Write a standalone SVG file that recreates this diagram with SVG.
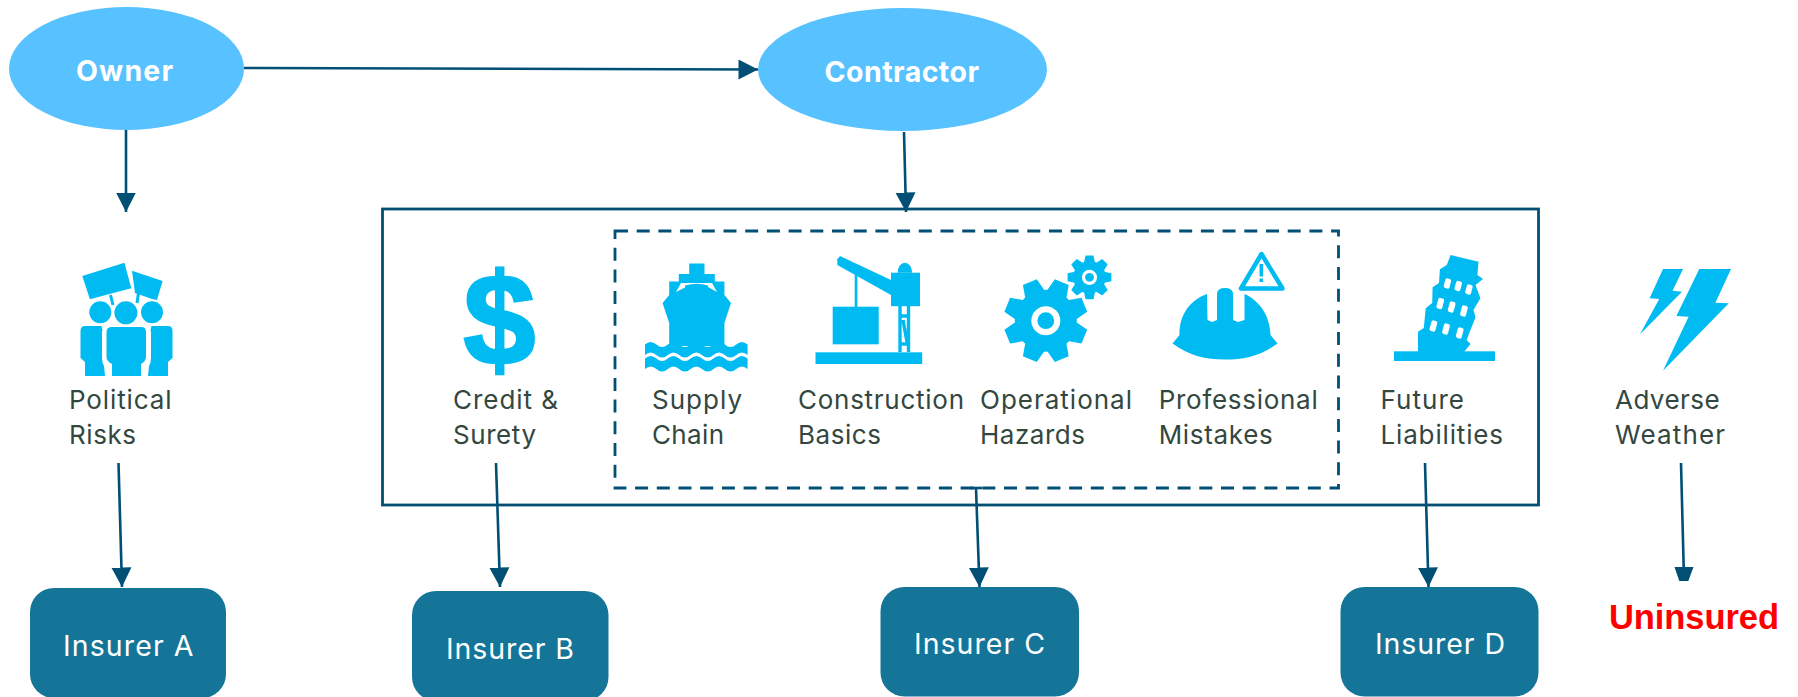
<svg xmlns="http://www.w3.org/2000/svg" xmlns:xlink="http://www.w3.org/1999/xlink" width="1798" height="697" viewBox="0 0 1798 697">
<style>
.bg{fill:#fff}
.el{fill:#57c2ff}
.ins{fill:#157599}
.ic{fill:#00bbf2}
.cut{fill:#fff}
.conn{fill:none;stroke:#024f75;stroke-width:2.6}
.frame{fill:none;stroke:#024f75;stroke-width:2.8}
.dash{fill:none;stroke:#024f75;stroke-width:2.8;stroke-dasharray:13 8.7}
text{font-family:Inter,"Liberation Sans",Arial,sans-serif}
.t-el{font-size:28.5px;font-weight:700;fill:#fff}
.t-ins{font-size:28.5px;fill:#fff}
.t-lab{font-size:26px;fill:#33473f}
.t-red{font-family:"Liberation Sans",Arial,sans-serif;font-size:34.5px;font-weight:700;fill:#ff0000}
.t-icon{font-family:"Liberation Sans",Arial,sans-serif;font-size:130px;font-weight:700;fill:#00bbf2;stroke:#00bbf2;stroke-width:2.5;text-anchor:middle}
</style>
<defs>
<marker id="ah" markerUnits="userSpaceOnUse" markerWidth="20" markerHeight="21" viewBox="0 0 20 21" refX="19.5" refY="10.5" orient="auto"><path d="M0 0.5L19.5 10.5L0 20.500Z" fill="#024f75"/></marker>
<g id="gear">
<circle r="31" class="ic"/>
<polygon class="ic" points="-7.5,-41.7 7.5,-41.7 10.5,-28 -10.5,-28" transform="rotate(22.500)"/>
<polygon class="ic" points="-7.5,-41.7 7.5,-41.7 10.5,-28 -10.5,-28" transform="rotate(67.500)"/>
<polygon class="ic" points="-7.5,-41.7 7.5,-41.7 10.5,-28 -10.5,-28" transform="rotate(112.500)"/>
<polygon class="ic" points="-7.5,-41.7 7.5,-41.7 10.5,-28 -10.5,-28" transform="rotate(157.500)"/>
<polygon class="ic" points="-7.5,-41.7 7.5,-41.7 10.5,-28 -10.5,-28" transform="rotate(202.500)"/>
<polygon class="ic" points="-7.5,-41.7 7.5,-41.7 10.5,-28 -10.5,-28" transform="rotate(247.500)"/>
<polygon class="ic" points="-7.5,-41.7 7.5,-41.7 10.5,-28 -10.5,-28" transform="rotate(292.500)"/>
<polygon class="ic" points="-7.5,-41.7 7.5,-41.7 10.5,-28 -10.5,-28" transform="rotate(337.500)"/>
<circle r="14.5" class="cut"/>
<circle r="8.4" class="ic"/>
</g>
<path id="wave" class="ic" d="M645 0q5.7 -5 11.4 0t11.4 0t11.4 0t11.4 0t11.4 0t11.4 0t11.4 0t11.4 0t11.4 0V10.500q-5.7 -5 -11.4 0t-11.4 0t-11.4 0t-11.4 0t-11.4 0t-11.4 0t-11.4 0t-11.4 0t-11.4 0Z"/>
</defs>
<rect class="bg" width="1798" height="697"/>

<g id="frames">
<rect class="frame" x="382.500" y="209" width="1156" height="296"/>
<rect class="dash" x="615" y="231" width="723.500" height="257"/>
</g>

<g id="connectors">
<line class="conn" x1="244" y1="68" x2="758" y2="69.500" stroke-width="3" marker-end="url(#ah)"/>
<line class="conn" x1="126" y1="129" x2="126" y2="212" marker-end="url(#ah)"/>
<line class="conn" x1="904" y1="132" x2="906" y2="212" marker-end="url(#ah)"/>
<line class="conn" x1="118.500" y1="463" x2="122" y2="587" marker-end="url(#ah)"/>
<line class="conn" x1="496" y1="463" x2="500" y2="587" marker-end="url(#ah)"/>
<line class="conn" x1="976" y1="488" x2="979.500" y2="587" marker-end="url(#ah)"/>
<path class="conn" d="M970 488H982"/>
<line class="conn" x1="1425" y1="463" x2="1428.500" y2="587" marker-end="url(#ah)"/>
<line class="conn" x1="1681" y1="463" x2="1683.700" y2="568"/>
<polygon points="1674.500,567 1693.500,567 1688.300,581 1679.300,581" fill="#024f75"/>
</g>

<g id="owner"><ellipse class="el" cx="126.500" cy="68.500" rx="117.500" ry="61.500"/><text class="t-el" x="76" y="81" textLength="97">Owner</text></g>
<g id="contractor"><ellipse class="el" cx="902.500" cy="69.500" rx="144.500" ry="61.500"/><text class="t-el" x="824.500" y="82" textLength="154.500">Contractor</text></g>

<g id="political-risks">
<polygon class="ic" points="82.300,276 124.400,262.700 131.300,288.300 89.900,299.300"/>
<polygon class="ic" points="132,270.700 162.600,281 157,300 152,299 135,293"/>
<path d="M110.500 295L113 305M138.500 293L137 303" stroke="#00bbf2" stroke-width="3" fill="none"/>
<circle class="ic" cx="100.300" cy="312.300" r="11"/>
<circle class="ic" cx="125.900" cy="312.800" r="11.500"/>
<circle class="ic" cx="152" cy="312.300" r="11"/>
<path class="ic" d="M112 327H141Q146 327 146 332V357Q146 361 141 364V376H112V364Q106.500 361 106.500 357V332Q106.500 327 112 327Z"/>
<path class="ic" d="M85 326H101.500Q103 330 102 332V358Q102 363 104 366L105 376H85V362L80.500 358V331Q80.500 326 85 326Z"/>
<path class="ic" d="M168 326H151.500Q150 330 151 332V358Q151 363 149 366L148 376H168V362L172.500 358V331Q172.500 326 168 326Z"/>
<text class="t-lab" x="69" y="409" textLength="102.500">Political</text>
<text class="t-lab" x="69" y="444" textLength="67">Risks</text>
</g>

<g id="credit-surety">
<text class="t-icon" transform="translate(499.500 364)">$</text>
<text class="t-lab" x="453" y="409" textLength="105">Credit &amp;</text>
<text class="t-lab" x="453" y="444" textLength="83">Surety</text>
</g>

<g id="supply-chain">
<path class="ic" d="M689.200 263.500H704.500V274H714.800V281.500H724.400V295L731 303L724.400 323V346H669.200V323L662.600 303L669.200 295V281.500H678.800V274H689.200Z"/>
<path class="cut" d="M676 292L681 283H712L717 292L708 287Q697 284 686 287Z"/>
<path class="ic" d="M685 285.500Q697 282 708 285.500L708 289H685Z"/>
<use xlink:href="#wave" href="#wave" y="344.500"/>
<use xlink:href="#wave" href="#wave" y="358.500"/>
<text class="t-lab" x="652" y="409" textLength="90">Supply</text>
<text class="t-lab" x="652" y="444" textLength="72">Chain</text>
</g>

<g id="construction-basics">
<rect class="ic" x="815.500" y="352.300" width="106.700" height="11.700"/>
<rect class="ic" x="832.700" y="306.700" width="46" height="37.600"/>
<rect class="ic" x="854.700" y="275" width="2.700" height="32"/>
<polygon class="ic" points="837.300,259.300 840,256 891,280 891,295 837.300,265"/>
<rect class="ic" x="891" y="272.700" width="29" height="33.500"/>
<path class="ic" d="M897.700 272.700A7.100 10 0 0 1 912 272.700Z"/>
<path d="M900 306V352M908.500 306V352M900 316H908.500M903 320L907 342M900 344H908.500" stroke="#00bbf2" stroke-width="3.400" fill="none"/>
<text class="t-lab" x="798" y="409" textLength="166">Construction</text>
<text class="t-lab" x="798" y="444" textLength="83">Basics</text>
</g>

<g id="operational-hazards">
<use xlink:href="#gear" href="#gear" transform="translate(1045.800 320.700)"/>
<use xlink:href="#gear" href="#gear" transform="translate(1089.500 277.300) scale(.525) rotate(22.500)"/>
<text class="t-lab" x="980" y="409" textLength="152">Operational</text>
<text class="t-lab" x="980" y="444" textLength="105">Hazards</text>
</g>

<g id="professional-mistakes">
<path class="ic" d="M1172.500 343.500L1179.500 335C1179 315 1190 300 1207 294L1207.500 320L1212 322L1217 320V293Q1218 288 1225 288Q1232 288 1233 293V320L1238 322L1244.500 320V294C1262 302 1270 318 1270.500 335L1277.500 343.500C1260 356 1245 359.500 1225 359.500C1205 359.500 1190 356 1172.500 343.500Z"/>
<path d="M1261.500 254L1241 288.500H1282.500Z" fill="none" stroke="#00bbf2" stroke-width="4.500" stroke-linejoin="round"/>
<path d="M1261.300 264V276.500M1261.300 278.500V282" fill="none" stroke="#00bbf2" stroke-width="3.500"/>
<text class="t-lab" x="1158.700" y="409" textLength="159">Professional</text>
<text class="t-lab" x="1158.700" y="444" textLength="114">Mistakes</text>
</g>

<g id="future-liabilities">
<rect class="ic" x="1394" y="351.300" width="101" height="9.700"/>
<polygon class="ic" points="1450.600,255 1478.500,261.700 1477.400,275 1483,279 1475.500,285 1480.400,298.300 1473.500,310 1475.500,317.300 1466.600,340 1470.500,344 1464,352 1418,352 1418,331.700 1423.800,328 1425.700,308.300 1432.200,303 1432.600,287.300 1439,283 1439.900,269.300 1446.800,265"/>
<rect class="cut" x="1444.500" y="278.500" width="6" height="10" rx="2" transform="rotate(15 1447.500 283.300)"/>
<rect class="cut" x="1455.200" y="281" width="6" height="10" rx="2" transform="rotate(15 1458.200 286)"/>
<rect class="cut" x="1466" y="284.500" width="6" height="10" rx="2" transform="rotate(15 1469 289.300)"/>
<rect class="cut" x="1437.300" y="298" width="6" height="11" rx="2" transform="rotate(15 1440.300 303.300)"/>
<rect class="cut" x="1448.700" y="301.500" width="6" height="11" rx="2" transform="rotate(15 1451.700 306.700)"/>
<rect class="cut" x="1461" y="305.500" width="6" height="11" rx="2" transform="rotate(15 1464 310.700)"/>
<rect class="cut" x="1430.400" y="320.500" width="6" height="11" rx="2" transform="rotate(15 1433.400 326)"/>
<rect class="cut" x="1443" y="323.500" width="6" height="11" rx="2" transform="rotate(15 1446 329)"/>
<rect class="cut" x="1456.800" y="327.500" width="6" height="11" rx="2" transform="rotate(15 1459.800 332.700)"/>
<text class="t-lab" x="1380.500" y="409" textLength="83.500">Future</text>
<text class="t-lab" x="1380.500" y="444" textLength="122.500">Liabilities</text>
</g>

<g id="adverse-weather">
<polygon class="ic" points="1699.300,269 1731,269 1715.400,302.700 1728.800,303.300 1663,370.700 1688.600,316.700 1676.400,316"/>
<polygon class="ic" points="1663,269 1683,269 1672.600,290.700 1682,291.700 1640,334.300 1659.200,299 1649.600,298.300"/>
<text class="t-lab" x="1615" y="409" textLength="104.600">Adverse</text>
<text class="t-lab" x="1615" y="444" textLength="110">Weather</text>
</g>

<g id="insurer-a"><rect class="ins" x="30" y="588" width="196" height="110" rx="24"/><text class="t-ins" x="63" y="656" textLength="130.500">Insurer A</text></g>
<g id="insurer-b"><rect class="ins" x="412" y="591" width="196.500" height="110" rx="24"/><text class="t-ins" x="446" y="659" textLength="128">Insurer B</text></g>
<g id="insurer-c"><rect class="ins" x="880.500" y="587" width="198.500" height="109.500" rx="24"/><text class="t-ins" x="914" y="654" textLength="131">Insurer C</text></g>
<g id="insurer-d"><rect class="ins" x="1340.500" y="587" width="198" height="109.500" rx="24"/><text class="t-ins" x="1375" y="654" textLength="130">Insurer D</text></g>
<g id="uninsured"><text class="t-red" x="1609" y="629" textLength="170">Uninsured</text></g>
</svg>
